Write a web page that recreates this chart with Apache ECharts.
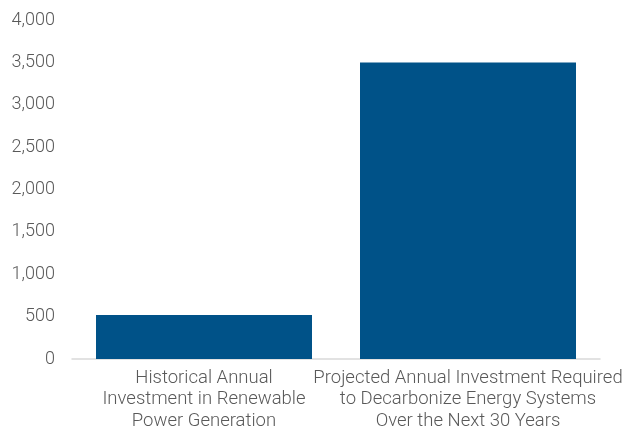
<!DOCTYPE html>
<html><head><meta charset="utf-8">
<script src="https://cdn.jsdelivr.net/npm/echarts@6/dist/echarts.min.js"></script>
<style>html,body{margin:0;padding:0;background:#fff;overflow:hidden}#c{width:627px;height:430px}</style>
</head><body><div id="c"></div>
<script>
var categories = [
  "Historical Annual\nInvestment in Renewable\nPower Generation",
  "Projected Annual Investment Required\nto Decarbonize Energy Systems\nOver the Next 30 Years"
];
var values = [520, 3500];
var chart = echarts.init(document.getElementById('c'), null, {renderer: 'canvas'});
chart.setOption({
  animation: false,
  grid: {left: 72, right: 27, top: 20, bottom: 71, containLabel: false, outerBoundsMode: 'none'},
  xAxis: {
    type: 'category', data: categories,
    axisLine: {lineStyle: {color: '#d9d9d9', width: 1.5}},
    axisTick: {show: false},
    axisLabel: {interval: 0, color: '#595959', fontFamily: 'Roboto', fontWeight: 300, fontSize: 18.5, lineHeight: 21.8, margin: 8, overflow: 'none', width: 400, hideOverlap: false}
  },
  yAxis: {
    type: 'value', min: 0, max: 4000, interval: 500,
    axisLine: {show: false}, axisTick: {show: false}, splitLine: {show: false},
    axisLabel: {color: '#595959', fontFamily: 'Roboto', fontWeight: 300, fontSize: 18, margin: 17,
      formatter: function(v){ return v.toLocaleString('en-US'); }}
  },
  series: [{type: 'bar', data: values, barWidth: 216, itemStyle: {color: '#005288'}}]
});
</script></body></html>
